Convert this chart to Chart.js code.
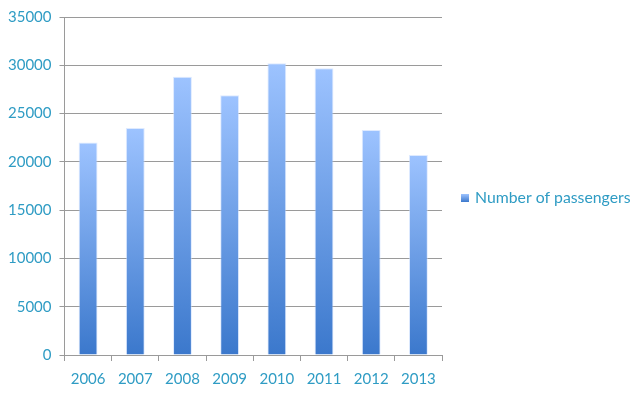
<!DOCTYPE html>
<html>
<head>
<meta charset="utf-8">
<script src="https://cdn.jsdelivr.net/npm/chart.js@4/dist/chart.umd.min.js"></script>
<style>
  html, body { margin: 0; padding: 0; background: #ffffff; }
  #wrap { width: 640px; height: 394px; }
</style>
</head>
<body>
<div id="wrap"><canvas id="passengerChart"></canvas></div>
<script>
const ctx = document.getElementById('passengerChart').getContext('2d');

// data
const years = ['2006', '2007', '2008', '2009', '2010', '2011', '2012', '2013'];
const passengers = [22000, 23500, 28800, 26900, 30200, 29700, 23300, 20700];
const yTicks = [0, 5000, 10000, 15000, 20000, 25000, 30000, 35000];

const labelColor = '#2f9cc4';
const lineColor = '#9a9a9a';
const fontFamily = 'Lato';

function blueGradient(c, top, bottom) {
    const g = c.createLinearGradient(0, top, 0, bottom);
    g.addColorStop(0, '#9dc3ff');
    g.addColorStop(1, '#3b78cc');
    return g;
}

// each bar gets its own light-to-dark gradient, top to bottom
function barGradient(context) {
    const chart = context.chart;
    const y = chart.scales.y;
    if (!y || context.type !== 'data') return '#6a9ae0';
    const top = y.getPixelForValue(context.parsed.y);
    const bottom = y.getPixelForValue(0);
    if (!isFinite(top) || !isFinite(bottom) || top === bottom) return '#6a9ae0';
    return blueGradient(chart.ctx, top, bottom);
}

// the built-in right legend gets squeezed to half the free width, so draw it here
const sideLegend = {
    id: 'sideLegend',
    afterDraw(chart) {
        const c = chart.ctx;
        const area = chart.chartArea;
        const x = area.right + 19;
        const y = (area.top + area.bottom) / 2 + 12;
        c.save();
        c.fillStyle = blueGradient(c, y - 4, y + 4);
        c.fillRect(x, y - 4, 8, 8);
        c.fillStyle = labelColor;
        c.font = '15.8px ' + fontFamily;
        c.textBaseline = 'middle';
        c.textAlign = 'left';
        c.fillText(chart.data.datasets[0].label, x + 14, y);
        c.restore();
    }
};

function makeChart() {
    return new Chart(ctx, {
        type: 'bar',
        data: {
            labels: years,
            datasets: [{
                label: 'Number of passengers',
                data: passengers,
                backgroundColor: barGradient,
                borderColor: 'rgba(200,220,255,0.6)',
                borderWidth: 1,
                barPercentage: 0.8,
                categoryPercentage: 0.5
            }]
        },
        options: {
            responsive: true,
            maintainAspectRatio: false,
            animation: false,
            layout: { padding: { left: 0, right: 198, top: 1, bottom: -3 } },
            plugins: {
                tooltip: { enabled: false },
                legend: { display: false }
            },
            scales: {
                x: {
                    grid: {
                        display: true,
                        drawOnChartArea: false,
                        drawTicks: true,
                        tickLength: 6,
                        color: lineColor,
                        offset: true
                    },
                    border: { color: lineColor },
                    ticks: {
                        color: labelColor,
                        font: { family: fontFamily, size: 15 },
                        padding: 9
                    }
                },
                y: {
                    min: 0,
                    max: 35000,
                    afterBuildTicks: function (axis) {
                        axis.ticks = yTicks.map(v => ({ value: v }));
                    },
                    grid: {
                        color: lineColor,
                        tickLength: 5
                    },
                    border: { color: lineColor },
                    ticks: {
                        color: labelColor,
                        font: { family: fontFamily, size: 15 },
                        padding: 8,
                        callback: v => String(v)
                    }
                }
            }
        },
        plugins: [sideLegend]
    });
}

document.fonts.load('15px ' + fontFamily).then(makeChart, makeChart);
</script>
</body>
</html>
